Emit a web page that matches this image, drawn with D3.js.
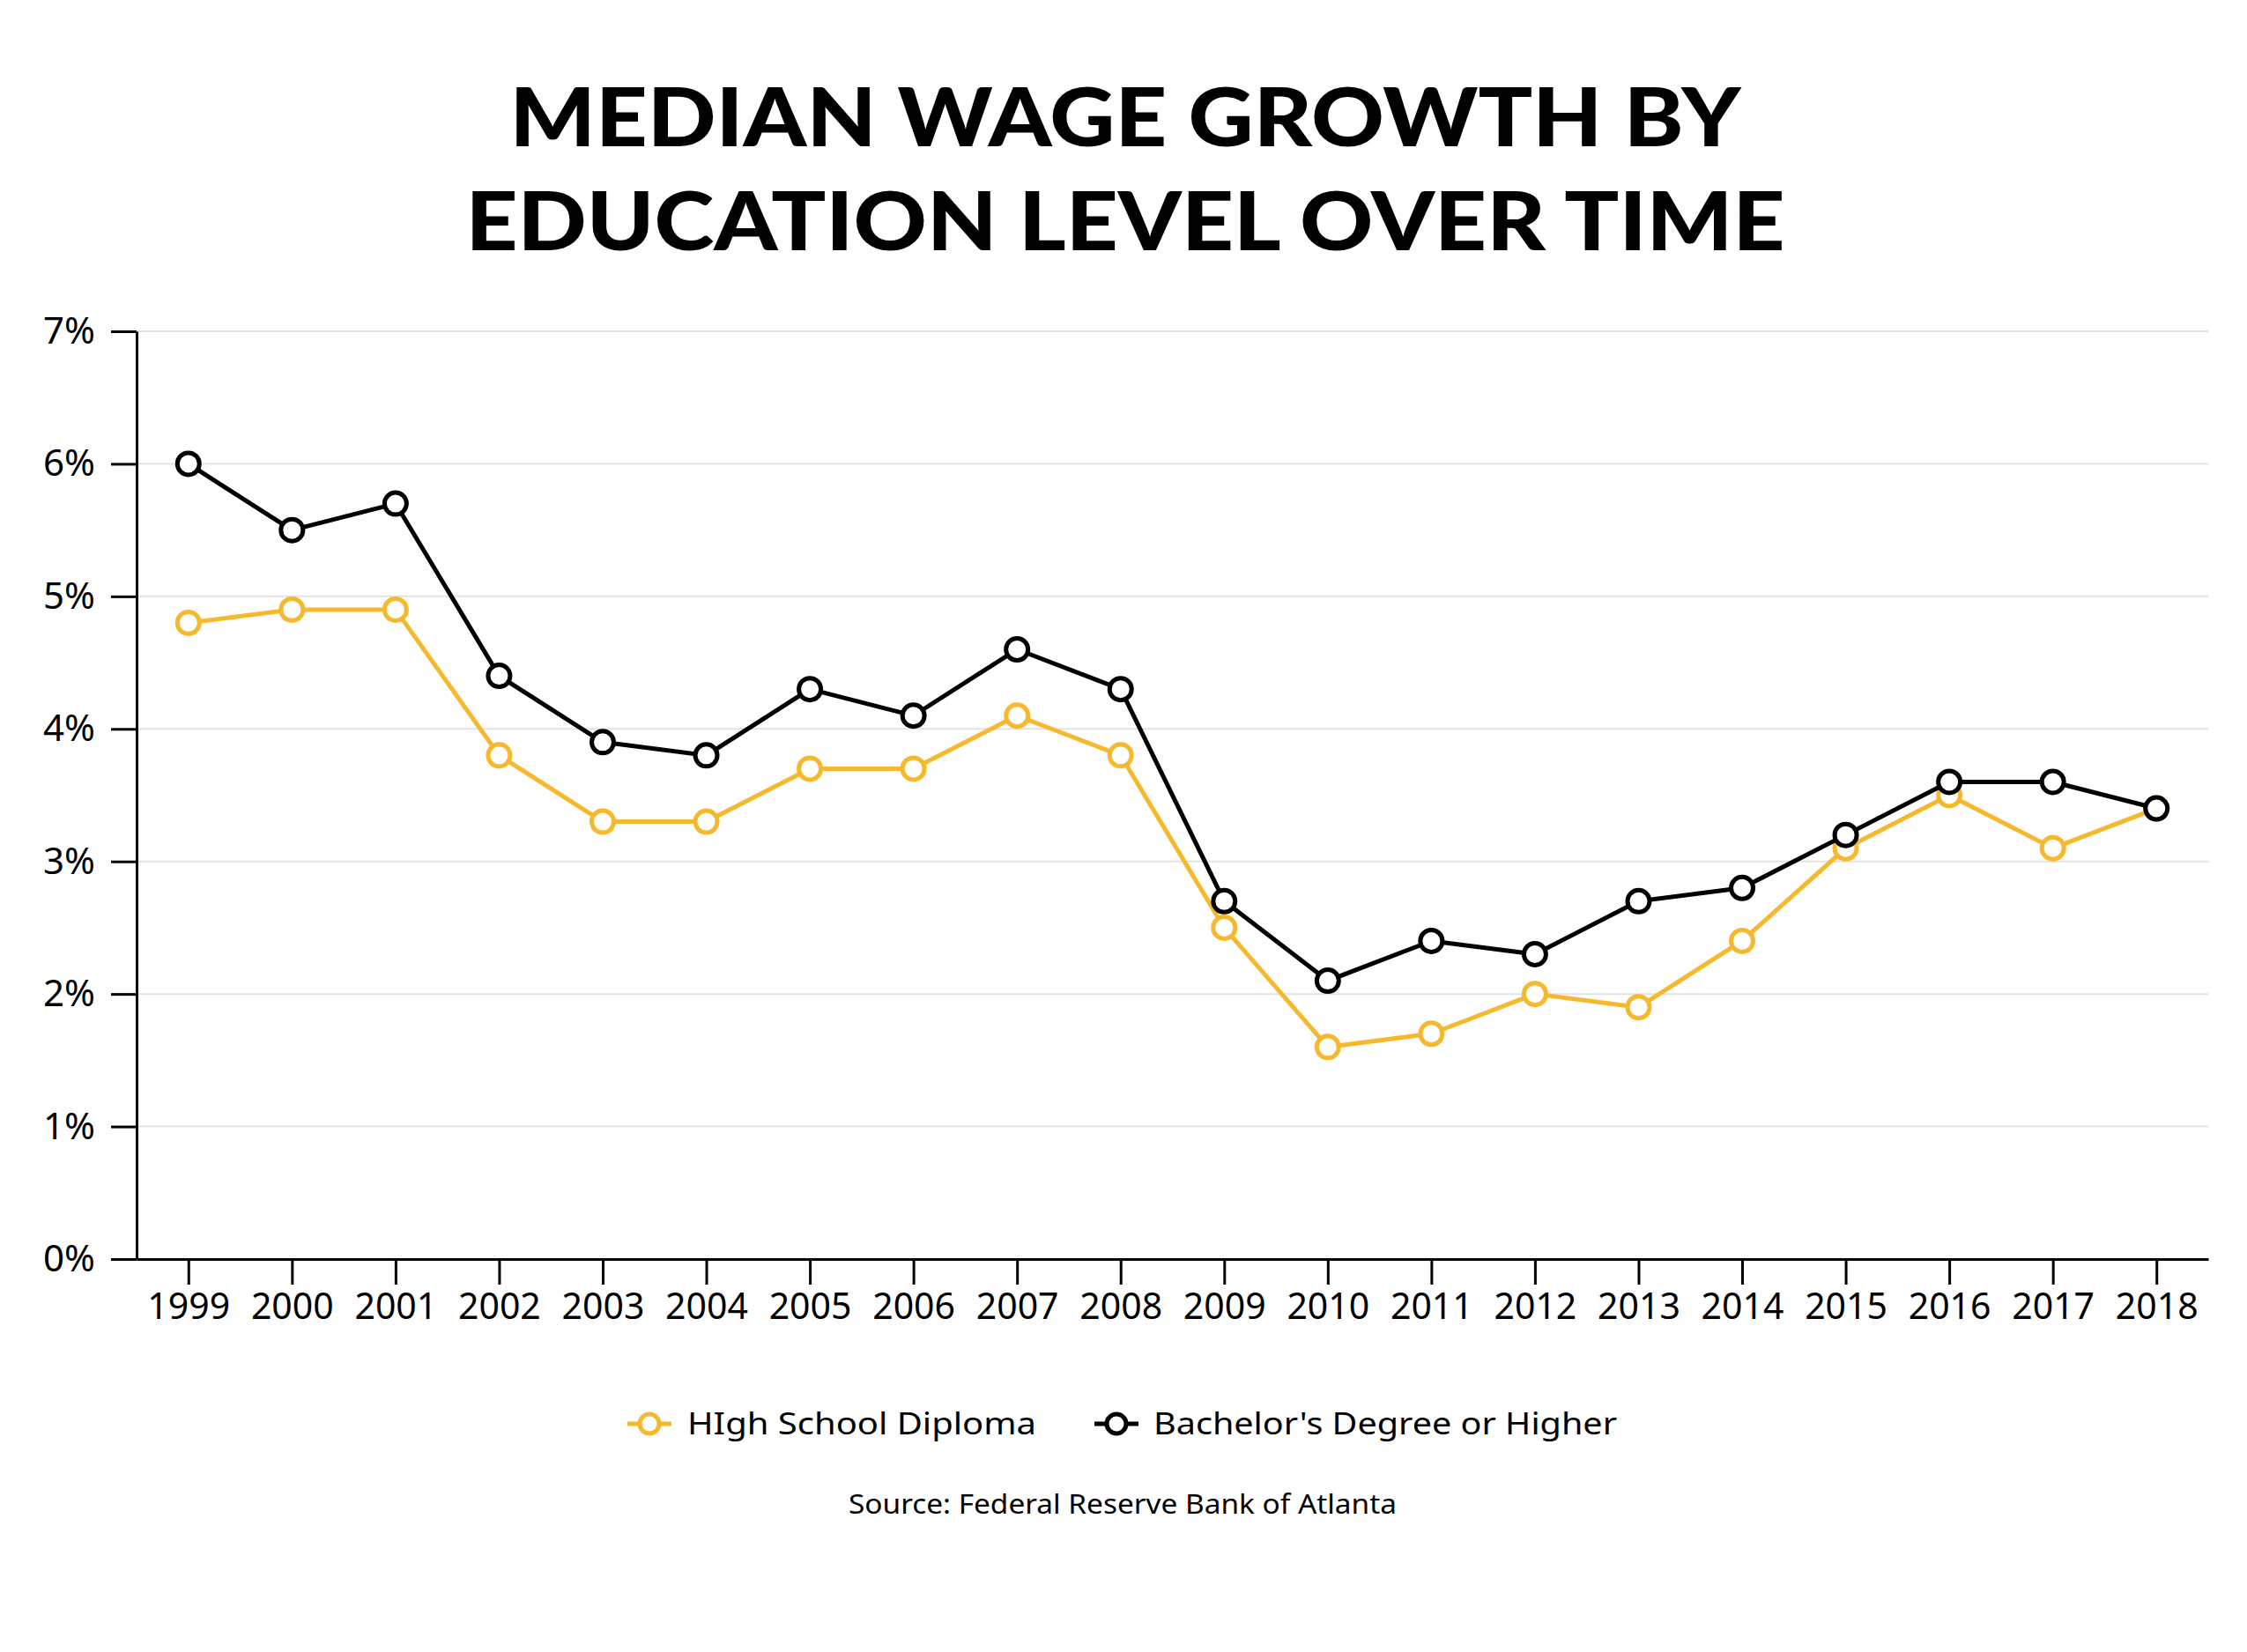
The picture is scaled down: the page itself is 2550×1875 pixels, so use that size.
<!DOCTYPE html>
<html>
<head>
<meta charset="utf-8">
<script src="https://cdn.jsdelivr.net/npm/d3@7"></script>
<style>
html,body{margin:0;padding:0;background:#fff;}
svg{display:block;}
</style>
</head>
<body>
<script>
const years = ["1999","2000","2001","2002","2003","2004","2005","2006","2007","2008","2009","2010","2011","2012","2013","2014","2015","2016","2017","2018"];
const highSchool = [4.8,4.9,4.9,3.8,3.3,3.3,3.7,3.7,4.1,3.8,2.5,1.6,1.7,2.0,1.9,2.4,3.1,3.5,3.1,3.4];
const bachelors = [6.0,5.5,5.7,4.4,3.9,3.8,4.3,4.1,4.6,4.3,2.7,2.1,2.4,2.3,2.7,2.8,3.2,3.6,3.6,3.4];
const yTicks = [0,1,2,3,4,5,6,7];
const seriesNames = ["HIgh School Diploma","Bachelor's Degree or Higher"];
const titleLines = ["MEDIAN WAGE GROWTH BY","EDUCATION LEVEL OVER TIME"];
const sourceText = "Source: Federal Reserve Bank of Atlanta";

(function () {
const W = 2550, H = 1875;
const colors = ["#F6B92E","#000000"];
const font = "'Noto Sans', 'Open Sans', sans-serif";

const svg = d3.select("body").append("svg").attr("width", W).attr("height", H);
svg.append("rect").attr("width", W).attr("height", H).attr("fill", "#fff");

const pL = 155, pR = 2506, pT = 376, pB = 1429;
const x = d3.scalePoint().domain(years).range([pL, pR]).padding(0.5);
const y = d3.scaleLinear().domain([0, 7]).range([pB, pT]);

// title
const titleWidths = [1397, 1497];
const titleBaselines = [166, 284];
titleLines.forEach((t, i) => {
  svg.append("text").attr("x", 1277).attr("y", titleBaselines[i])
    .attr("text-anchor", "middle")
    .attr("font-family", "Lato, 'Noto Sans', sans-serif").attr("font-weight", 900)
    .attr("font-size", 92)
    .attr("textLength", titleWidths[i]).attr("lengthAdjust", "spacingAndGlyphs")
    .attr("fill", "#000").text(t);
});

// gridlines
svg.append("g").selectAll("line").data(yTicks.filter(d => d > 0)).join("line")
  .attr("x1", pL).attr("x2", pR)
  .attr("y1", d => y(d)).attr("y2", d => y(d))
  .attr("stroke", "#e3e3e3").attr("stroke-width", 2);

// y axis
const yAxis = svg.append("g").attr("transform", `translate(${pL},0)`)
  .call(d3.axisLeft(y).tickValues(yTicks).tickFormat(d => d + "%").tickSize(29).tickPadding(18).tickSizeOuter(0));
yAxis.select(".domain").attr("stroke", "#000").attr("stroke-width", 3);
yAxis.selectAll(".tick line").attr("stroke", "#000").attr("stroke-width", 3);
yAxis.selectAll(".tick text").attr("font-family", font).attr("font-size", 42).attr("fill", "#000");

// x axis
const xAxis = svg.append("g").attr("transform", `translate(0,${pB})`)
  .call(d3.axisBottom(x).tickSize(29).tickPadding(10).tickSizeOuter(0));
xAxis.select(".domain").attr("stroke", "#000").attr("stroke-width", 3);
xAxis.selectAll(".tick line").attr("stroke", "#000").attr("stroke-width", 3);
xAxis.selectAll(".tick text").attr("font-family", font).attr("font-size", 41).attr("fill", "#000");

// lines
const line = d3.line().x((d, i) => x(years[i])).y(d => y(d));
[highSchool, bachelors].forEach((data, s) => {
  const g = svg.append("g");
  g.append("path").datum(data).attr("d", line)
    .attr("fill", "none").attr("stroke", colors[s]).attr("stroke-width", 5)
    .attr("stroke-linejoin", "round");
  g.selectAll("circle").data(data).join("circle")
    .attr("cx", (d, i) => x(years[i])).attr("cy", d => y(d)).attr("r", 12.5)
    .attr("fill", "#fff").attr("stroke", colors[s]).attr("stroke-width", 5);
});

// legend
const legY = 1616;
const legItems = [{cx: 737, tx: 780, w: 396}, {cx: 1267, tx: 1309, w: 526}];
seriesNames.forEach((name, i) => {
  const g = svg.append("g");
  g.append("line").attr("x1", legItems[i].cx - 25).attr("x2", legItems[i].cx + 25)
    .attr("y1", legY).attr("y2", legY).attr("stroke", colors[i]).attr("stroke-width", 5);
  g.append("circle").attr("cx", legItems[i].cx).attr("cy", legY).attr("r", 11)
    .attr("fill", "#fff").attr("stroke", colors[i]).attr("stroke-width", 5);
  g.append("text").attr("x", legItems[i].tx).attr("y", legY).attr("dy", "0.35em")
    .attr("font-family", font).attr("font-size", 35).attr("fill", "#000")
    .attr("textLength", legItems[i].w).attr("lengthAdjust", "spacingAndGlyphs").text(name);
});

// source
svg.append("text").attr("x", 1274).attr("y", 1707).attr("dy", "0.35em")
  .attr("text-anchor", "middle").attr("font-family", font).attr("font-size", 30)
  .attr("fill", "#000").attr("textLength", 622).attr("lengthAdjust", "spacingAndGlyphs").text(sourceText);
})();
</script>
</body>
</html>
